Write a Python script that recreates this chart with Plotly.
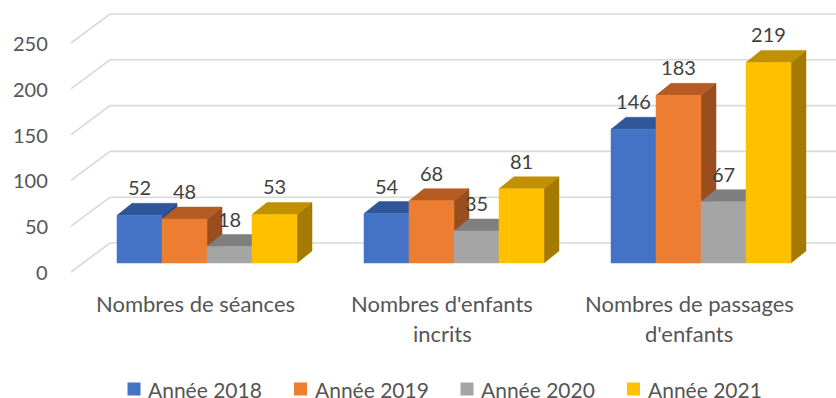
import plotly.graph_objects as go

# ---- data -------------------------------------------------------------
categories = ["Nombres de séances", "Nombres d'enfants<br>incrits", "Nombres de passages<br>d'enfants"]
series_names = ["Année 2018", "Année 2019", "Année 2020", "Année 2021"]
values_2018 = [52, 54, 146]
values_2019 = [48, 68, 183]
values_2020 = [18, 35, 67]
values_2021 = [53, 81, 219]
y_ticks = [0, 50, 100, 150, 200, 250]

series_values = [values_2018, values_2019, values_2020, values_2021]

# ---- styling ----------------------------------------------------------
front_colors = ["#4472C4", "#ED7D31", "#A5A5A5", "#FFC000"]
top_colors = ["#30569A", "#B65C22", "#7F7F7F", "#BF9000"]
side_colors = ["#2A4B86", "#9B4E1D", "#6E6E6E", "#A47B00"]
grid_color = "#D9D9D9"
axis_text = "#555555"
label_text = "#3F3F3F"
FONT = "Lato"

W, H = 836, 398
PX_X = 247.0      # pixels per category step
PX_Y = 0.916      # pixels per value unit
ORIGIN_X = 207.0  # pixel x of the first category centre
ORIGIN_Y = 263.0  # pixel y of the bar floor (front plane)


def dx(px):
    return px / PX_X


def dy(px):
    return px / PX_Y


BAR_W = dx(45)
DEPTH_X, DEPTH_Y = dx(15), dy(12)      # bar depth in pseudo-3D
WALL_FRONT_X, WALL_FRONT_Y = dx(-136), dy(-9)   # front-left corner of side wall
WALL_BACK_X, WALL_BACK_Y = dx(-97), dy(20)      # back-left corner of side wall

x_range = [-ORIGIN_X / PX_X, (W - ORIGIN_X) / PX_X]
y_range = [(ORIGIN_Y - H) / PX_Y, ORIGIN_Y / PX_Y]

fig = go.Figure()

# ---- walls: back-wall gridlines and side-wall diagonals ----------------
gx, gy = [], []
for t in y_ticks:
    gx += [WALL_FRONT_X, WALL_BACK_X, x_range[1] + 0.1, None]
    gy += [t + WALL_FRONT_Y, t + WALL_BACK_Y, t + WALL_BACK_Y, None]
fig.add_trace(go.Scatter(x=gx, y=gy, mode="lines", hoverinfo="skip",
                         line=dict(color=grid_color, width=1.6), showlegend=False))

# ---- pseudo-3D bars ----------------------------------------------------
n_series = len(series_values)
group_w = BAR_W * n_series
for j, vals in enumerate(series_values):
    fx, fy, tx, ty, sx, sy = [], [], [], [], [], []
    for i, v in enumerate(vals):
        x0 = i - group_w / 2 + j * BAR_W
        x1 = x0 + BAR_W
        # right side face
        sx += [x1, x1 + DEPTH_X, x1 + DEPTH_X, x1, x1, None]
        sy += [0, DEPTH_Y, v + DEPTH_Y, v, 0, None]
        # top face
        tx += [x0, x1, x1 + DEPTH_X, x0 + DEPTH_X, x0, None]
        ty += [v, v, v + DEPTH_Y, v + DEPTH_Y, v, None]
        # front face
        fx += [x0, x1, x1, x0, x0, None]
        fy += [0, 0, v, v, 0, None]
    for px_, py_, col in ((sx, sy, side_colors[j]), (tx, ty, top_colors[j]), (fx, fy, front_colors[j])):
        fig.add_trace(go.Scatter(x=px_, y=py_, mode="lines", fill="toself", fillcolor=col,
                                 line=dict(color=col, width=0.5), hoverinfo="skip",
                                 showlegend=False))

# ---- data labels -------------------------------------------------------
for j, vals in enumerate(series_values):
    lx = [i - group_w / 2 + j * BAR_W + BAR_W / 2 for i in range(len(vals))]
    ly = [v + dy(25) for v in vals]
    fig.add_trace(go.Scatter(x=lx, y=ly, mode="text", text=[str(v) for v in vals],
                             textposition="middle center", hoverinfo="skip",
                             textfont=dict(family=FONT, size=20, color=label_text),
                             showlegend=False))

annotations = []

# ---- value-axis tick labels (front plane) ------------------------------
for t in y_ticks:
    annotations.append(dict(x=dx(50 - ORIGIN_X), y=t + WALL_FRONT_Y, xref="x", yref="y",
                            text=str(t), showarrow=False, xanchor="right", yanchor="middle",
                            font=dict(family=FONT, size=20, color=axis_text)))

# ---- category labels ---------------------------------------------------
for i, cat in enumerate(categories):
    for k, line in enumerate(cat.split("<br>")):
        annotations.append(dict(x=i - dx(12), y=-dy(40 + 30 * k), xref="x", yref="y",
                                text=line, showarrow=False, xanchor="center", yanchor="middle",
                                font=dict(family=FONT, size=22, color=axis_text)))

# ---- legend ------------------------------------------------------------
leg_x = [dx(134 - ORIGIN_X) + j * dx(166.5) for j in range(n_series)]
leg_y = -dy(126)
fig.add_trace(go.Scatter(x=leg_x, y=[leg_y] * n_series, mode="markers", hoverinfo="skip",
                         marker=dict(symbol="square", size=13, color=front_colors,
                                     line=dict(width=0)),
                         showlegend=False))
for j, name in enumerate(series_names):
    annotations.append(dict(x=leg_x[j] + dx(12), y=leg_y, xref="x", yref="y",
                            text=name, showarrow=False, xanchor="left", yanchor="middle",
                            font=dict(family=FONT, size=21, color=axis_text)))

fig.update_layout(
    width=W, height=H,
    margin=dict(l=0, r=0, t=0, b=0),
    paper_bgcolor="white", plot_bgcolor="white",
    xaxis=dict(range=x_range, visible=False, fixedrange=True),
    yaxis=dict(range=y_range, visible=False, fixedrange=True),
    showlegend=False,
    annotations=annotations,
)

fig.write_html("out.html")
